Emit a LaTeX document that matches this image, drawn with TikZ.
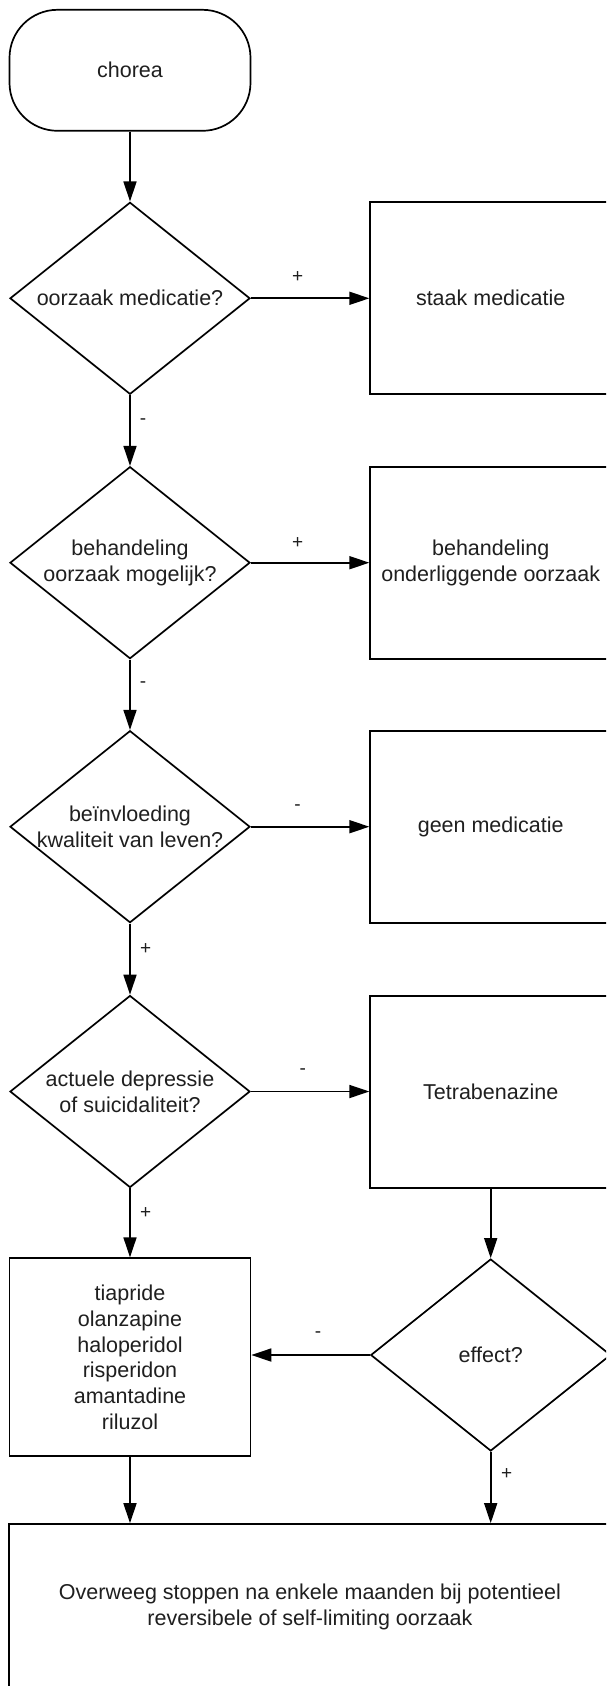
\documentclass[tikz,border=0pt]{standalone}
\usepackage{fontspec}
\setmainfont{Liberation Sans}
\usetikzlibrary{shapes.geometric,arrows.meta}
\begin{document}
\begin{tikzpicture}[x=1pt,y=-1pt,
  every node/.style={inner sep=0pt},
  base/.style={draw=black, line width=1.7pt, fill=white},
  txt/.style={align=center, font=\fontsize{21.5}{25.8}\selectfont, text=black!88},
  dia/.style={base, diamond, minimum width=240pt, minimum height=192pt},
  box/.style={base, rectangle, txt, minimum width=241pt, minimum height=192pt},
  lab/.style={font=\fontsize{19}{22}\selectfont, text=black!88},
  arr/.style={line width=1.7pt, -{Triangle[length=20pt,width=13pt]}},
]
\useasboundingbox (0,0) rectangle (606,1686);
\clip (0,0) rectangle (606,1686);
\fill[white] (0,0) rectangle (606,1686);

% left column
\node[base, rectangle, rounded corners=48pt, minimum width=241pt, minimum height=121pt, txt] (start) at (130,70.3) {chorea};
\node[dia] (d1) at (130,298.3) {};
\node[txt] (d1t) at (d1) {oorzaak medicatie?};
\node[dia] (d2) at (130,562.7) {};
\node[txt] (d2t) at (d2) {behandeling\\oorzaak mogelijk?};
\node[dia] (d3) at (130,826.7) {};
\node[txt] (d3t) at (d3) {beïnvloeding\\kwaliteit van leven?};
\node[dia] (d4) at (130,1091.5) {};
\node[txt] (d4t) at (d4) {actuele depressie\\of suicidaliteit?};
\node[box, minimum height=198pt] (tia) at (130,1357.2) {tiapride\\olanzapine\\haloperidol\\risperidon\\amantadine\\riluzol};

% right column
\node[box] (b1) at (490.7,298.3) {staak medicatie};
\node[box] (b2) at (490.7,562.7) {behandeling\\onderliggende oorzaak};
\node[box] (b3) at (490.7,826.7) {geen medicatie};
\node[box] (b4) at (490.7,1092) {Tetrabenazine};
\node[dia] (eff) at (490.7,1355) {};
\node[txt] (efft) at (eff) {effect?};

% bottom
\node[box, minimum width=601.4pt, minimum height=166pt] (fin) at (310,1607) {Overweeg stoppen na enkele maanden bij potentieel\\reversibele of self-limiting oorzaak};

% connectors
\draw[arr] (start.south) -- (d1.north);
\draw[arr] (d1.east) -- (d1.east -| b1.west);
\draw[arr] (d1.south) -- (d2.north);
\draw[arr] (d2.east) -- (d2.east -| b2.west);
\draw[arr] (d2.south) -- (d3.north);
\draw[arr] (d3.east) -- (d3.east -| b3.west);
\draw[arr] (d3.south) -- (d4.north);
\draw[arr] (d4.east) -- (d4.east -| b4.west);
\draw[arr] (d4.south) -- (tia.north);
\draw[arr] (b4.south) -- (eff.north);
\draw[arr] (eff.west) -- (eff.west -| tia.east);
\draw[arr] (tia.south) -- (tia.south |- fin.north);
\draw[arr] (eff.south) -- (eff.south |- fin.north);

% labels
\node[lab] (l1) at (297.6,277.3) {+};
\node[lab] (l2) at (143,421.7) {-};
\node[lab] (l3) at (297.6,542.7) {+};
\node[lab] (l4) at (143,685) {-};
\node[lab] (l5) at (297.6,807.3) {-};
\node[lab] (l6) at (145.7,949) {+};
\node[lab] (l7) at (302.7,1071.7) {-};
\node[lab] (l8) at (145.7,1212.7) {+};
\node[lab] (l9) at (318,1335) {-};
\node[lab] (l10) at (506.7,1474.3) {+};
\end{tikzpicture}
\end{document}
